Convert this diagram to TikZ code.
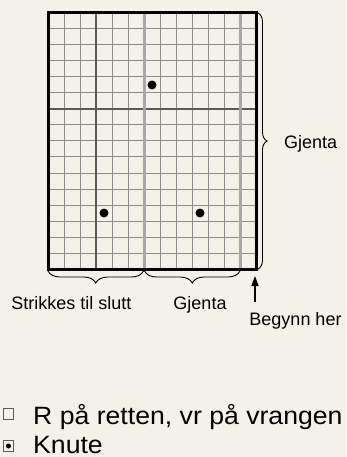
\documentclass[tikz,border=0pt]{standalone}
\usepackage{fontspec}
\setmainfont{Liberation Sans}
\newfontfamily\legendfont[FakeStretch=1.065]{Liberation Sans}
\usetikzlibrary{decorations.pathreplacing,arrows.meta}
\definecolor{paper}{HTML}{F4F1E9}
\definecolor{gridgray}{HTML}{8C8C8C}
\definecolor{tengray}{HTML}{5A5A5A}
\definecolor{repgray}{HTML}{A8A8AC}
\begin{document}
\begin{tikzpicture}[x=1pt,y=-1pt,
  thinline/.style={gridgray, line width=1pt},
  tenline/.style={tengray, line width=1.6pt},
  repline/.style={repgray, line width=3pt},
  frame/.style={black, line width=3pt},
  knot/.style={circle, fill=black, inner sep=0pt, minimum size=9pt},
  brace/.style={decorate, decoration={brace, amplitude=#1}, line width=0.9pt},
  label/.style={font=\fontsize{18}{20}\selectfont, anchor=base, inner sep=0pt},
  legend/.style={font=\legendfont\fontsize{25}{28}\selectfont, anchor=base west, inner sep=0pt},
  key/.style={draw=tengray, line width=0.8pt, minimum size=10.5pt, inner sep=0pt}]

  \useasboundingbox[fill=paper] (0,0) rectangle (346,457);

  % rutenett
  \foreach \i in {1,...,12}
    \draw[thinline] ({48+16*\i},13) -- ({48+16*\i},269);
  \foreach \j in {1,...,15}
    \draw[thinline] (48,{13+16*\j}) -- (256,{13+16*\j});
  \draw[tenline] (96,13) -- (96,269);
  \draw[tenline] (48,109) -- (256,109);
  \foreach \i in {6,12}
    \draw[repline] ({48+16*\i},13) -- ({48+16*\i},269);
  \draw[frame] (48,13) rectangle (256,269);

  % knuter
  \node[knot] (knot1) at (152,85) {};
  \node[knot] (knot2) at (104,213) {};
  \node[knot] (knot3) at (200,213) {};

  % klammer
  \coordinate (righttop) at (258,13);
  \coordinate (rightbot) at (258,269);
  \coordinate (botleft) at (48,271);
  \coordinate (botmid) at (143.5,271);
  \coordinate (botmid2) at (144.5,271);
  \coordinate (botright) at (240,271);
  \draw[brace=9pt] (righttop) -- (rightbot);
  \draw[brace=12pt] (botmid) -- (botleft);
  \draw[brace=12pt] (botright) -- (botmid2);

  \node[label, anchor=base west] (repright) at (284,149) {Gjenta};
  \node[label] (rest) at (71.5,309) {Strikkes til slutt};
  \node[label] (repbot) at (200,309) {Gjenta};
  \node[label] (begin) at (295.5,325) {Begynn her};

  % pil
  \coordinate (arrowfoot) at (255,302);
  \coordinate (arrowtip) at (255,276);
  \draw[line width=1.4pt, -{Triangle[width=7pt,length=10pt]}] (arrowfoot) -- (arrowtip);

  % tegnforklaring
  \node[key] (keyplain) at (8.5,414) {};
  \node[key] (keyknot) at (8.5,446) {};
  \node[circle, fill=black, inner sep=0pt, minimum size=5pt] (keydot) at (keyknot) {};
  \node[legend] (legplain) at (33,424) {R på retten, vr på vrangen};
  \node[legend] (legknot) at (33,453.5) {Knute};
\end{tikzpicture}
\end{document}
